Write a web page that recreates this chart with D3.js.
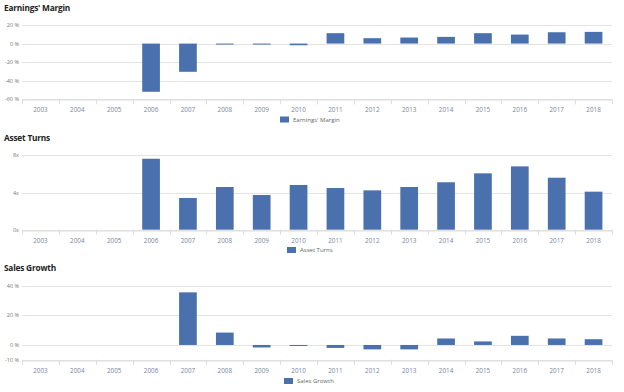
<!DOCTYPE html>
<html><head><meta charset="utf-8">
<script src="https://cdn.jsdelivr.net/npm/d3@7"></script>
<style>
body{margin:0;background:#fff;}
svg{display:block;font-family:"Open Sans",Arial,sans-serif;}
</style></head>
<body><svg id="c" width="624" height="392"></svg>
<script>
const years = ["2003","2004","2005","2006","2007","2008","2009","2010","2011","2012","2013","2014","2015","2016","2017","2018"];
const earningsMargin = [null,null,null,-51.9,-30.4,-0.5,-0.5,-1.8,11.2,5.8,6.5,7.2,11.2,9.7,12.2,12.6];
const assetTurns = [null,null,null,7.63,3.41,4.59,3.73,4.81,4.48,4.23,4.59,5.10,6.06,6.81,5.59,4.09];
const salesGrowth = [null,null,null,null,35.7,8.4,-1.7,-0.7,-2.0,-3.0,-3.0,4.4,2.4,6.2,4.4,3.9];
const emTicks = [20,0,-20,-40,-60];
const atTicks = [8,4,0];
const sgTicks = [40,20,0,-10];

const svg = d3.select("#c");
const BAR = "#4a71ad";

function panel(cfg){
  const g = svg.append("g");
  g.append("text").attr("x",4).attr("y",cfg.titleY).text(cfg.title)
    .attr("font-size",8.3).attr("font-weight",700).attr("fill","#222").attr("letter-spacing",-0.2);
  const x = d3.scaleBand().domain(years).range([22,612]).paddingInner(0.52).paddingOuter(0.26);
  const y = d3.scaleLinear().domain(cfg.domain).range(cfg.range);
  g.selectAll(".grid").data(cfg.ticks).join("line")
    .attr("x1",22).attr("x2",612).attr("y1",d=>Math.round(y(d))+0.5).attr("y2",d=>Math.round(y(d))+0.5)
    .attr("stroke","#e3e3e3").attr("stroke-width",1);
  g.selectAll(".yl").data(cfg.ticks).join("text")
    .attr("x",19).attr("y",d=>y(d)+2).attr("text-anchor","end")
    .attr("font-size",5.5).attr("fill","#777").text(cfg.fmt);
  const base = cfg.range[0];
  const ax = g.append("g").attr("transform",`translate(0,${Math.round(base)+0.5})`)
    .call(d3.axisBottom(x).tickSize(0).tickPadding(8));
  ax.select(".domain").attr("stroke","#ddd");
  ax.selectAll("text").attr("font-size",6.3).attr("fill","#7585a0").attr("font-family","'Open Sans',Arial,sans-serif");
  const bounds = d3.range(years.length+1).map(i=>22+i*(590/years.length));
  g.selectAll(".bt").data(bounds).join("line")
    .attr("x1",d=>Math.round(d)+0.5).attr("x2",d=>Math.round(d)+0.5)
    .attr("y1",base).attr("y2",base+5).attr("stroke","#ddd");
  const data = years.map((yr,i)=>({yr,v:cfg.values[i]})).filter(d=>d.v!==null);
  g.selectAll(".bar").data(data).join("rect")
    .attr("x",d=>x(d.yr)).attr("width",x.bandwidth())
    .attr("y",d=>Math.min(y(d.v),y(0)))
    .attr("height",d=>Math.max(1,Math.abs(y(d.v)-y(0))))
    .attr("fill",BAR);
  g.append("rect").attr("x",cfg.legX).attr("y",cfg.legY-5).attr("width",9).attr("height",6).attr("fill",BAR);
  g.append("text").attr("x",cfg.legX+13).attr("y",cfg.legY).text(cfg.title)
    .attr("font-size",6).attr("fill","#666");
}

panel({title:"Earnings' Margin",titleY:11,domain:[-60,20],range:[99.3,25],ticks:emTicks,
  fmt:d=>d+" %",values:earningsMargin,legX:280,legY:121.5});
panel({title:"Asset Turns",titleY:141,domain:[0,8],range:[229.7,155.3],ticks:atTicks,
  fmt:d=>d+"x",values:assetTurns,legX:287,legY:252});
panel({title:"Sales Growth",titleY:271,domain:[-10,40],range:[359.7,286],ticks:sgTicks,
  fmt:d=>d+" %",values:salesGrowth,legX:284,legY:383});
</script></body></html>
